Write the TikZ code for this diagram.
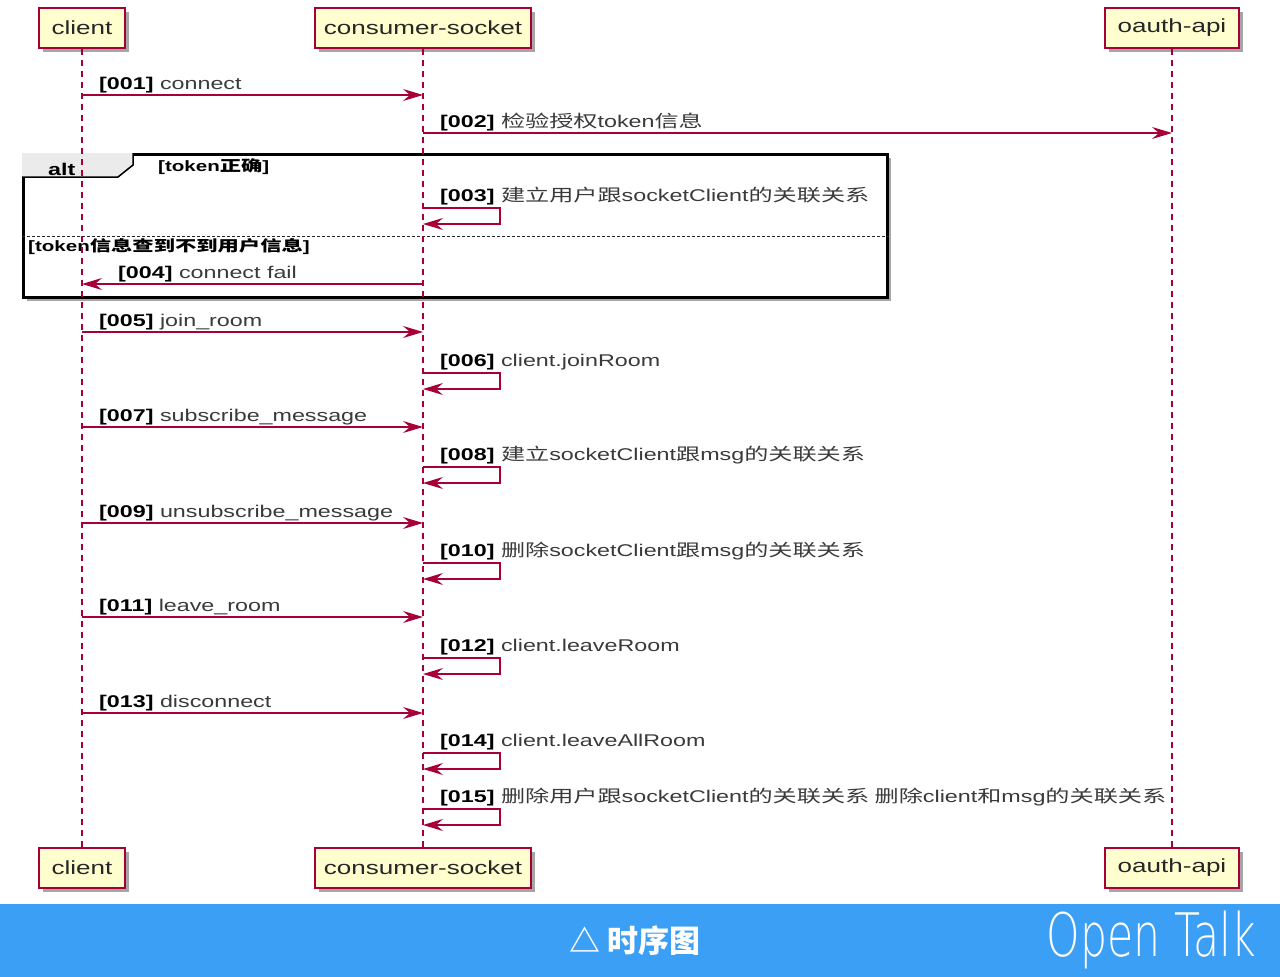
\documentclass[tikz,border=0pt]{standalone}
\usepackage{fontspec}
\setmainfont{Liberation Sans}[FakeStretch=1.37]
\newfontfamily\cjk{Noto Sans CJK SC}[FakeStretch=1.42]
\newfontfamily\cjkban{Noto Sans CJK SC}
\newfontfamily\thinfont{DejaVu Sans ExtraLight}[FakeStretch=0.71]
\usetikzlibrary{arrows.meta,shadows}
\definecolor{puml}{HTML}{A80036}
\definecolor{pfill}{HTML}{FEFECE}
\definecolor{bannerblue}{HTML}{3A9FF5}
\definecolor{lbl}{HTML}{3A3A3A}
\newcommand{\mnum}[1]{\textbf{\color{black}[#1]}}
\tikzset{
  x=1pt, y=-1pt,
  part/.style={draw=puml, fill=pfill, line width=1.5pt, minimum height=40pt, inner sep=0pt,
    font=\fontsize{19}{19}\selectfont, text=black!85,
    drop shadow={shadow xshift=4pt, shadow yshift=-4pt, opacity=0.35, fill=black}},
  lifeline/.style={draw=puml, line width=1.3pt, dash pattern=on 6pt off 5pt},
  msg/.style={draw=puml, line width=1.2pt, -{Stealth[length=20pt,width=12pt,inset=7pt]}},
  lab/.style={anchor=base west, inner sep=0pt, font=\fontsize{17}{17}\selectfont, text=lbl},
  grouplab/.style={anchor=base west, inner sep=0pt, font=\bfseries\fontsize{15}{15}\selectfont, text=black},
  altbox/.style={draw=black, line width=2.5pt, fill=white, inner sep=0pt,
    drop shadow={shadow xshift=4pt, shadow yshift=-4pt, opacity=0.35, fill=black}},
}
\begin{document}
\begin{tikzpicture}
\useasboundingbox (0,0) rectangle (1280,977);
\fill[white] (0,0) rectangle (1280,977);

% alt group box
\node[altbox, minimum width=864pt, minimum height=143pt, anchor=north west] (alt) at (22,153) {};
\fill[black!8] (alt.north west) -- ++(111,0) -- ++(0,12) -- ++(-15,12) -- ++(-96,0) -- cycle;
\draw[black, line width=1.5pt] ([xshift=111pt]alt.north west) -- ++(0,12) -- ++(-15,12) -- ([yshift=-24pt]alt.north west);
\node[grouplab, font=\bfseries\fontsize{17}{17}\selectfont] (altlab) at (48,175) {alt};
\node[grouplab] (g1) at (158,171) {[token{\cjk 正确}]};
\coordinate (sep) at (0,236);
\draw[black!85, line width=1pt, dash pattern=on 3pt off 2pt] (alt.west |- sep) -- (alt.east |- sep);
\node[grouplab] (g2) at (28,251) {[token{\cjk 信息查到不到用户信息}]};

% participants
\node[part, minimum width=86pt] (ct) at (82,28) {client};
\node[part, minimum width=216pt] (cs) at (423,28) {consumer-socket};
\node[part, minimum width=134pt] (ot) at (1172,28) {oauth-api};
\node[part, minimum width=86pt] (cb) at (82,868) {client};
\node[part, minimum width=216pt] (sb) at (423,868) {consumer-socket};
\node[part, minimum width=134pt] (ob) at (1172,868) {oauth-api};

\draw[lifeline] (ct.south) -- (cb.north);
\draw[lifeline] (cs.south) -- (sb.north);
\draw[lifeline] (ot.south) -- (ob.north);

% message rows
\coordinate (r1) at (0,95);
\coordinate (r2) at (0,133);
\coordinate (r3) at (0,208);   \coordinate (r3b) at (0,224);
\coordinate (r4) at (0,284);
\coordinate (r5) at (0,332);
\coordinate (r6) at (0,373);   \coordinate (r6b) at (0,389);
\coordinate (r7) at (0,427);
\coordinate (r8) at (0,467);   \coordinate (r8b) at (0,483);
\coordinate (r9) at (0,523);
\coordinate (r10) at (0,563);  \coordinate (r10b) at (0,579);
\coordinate (r11) at (0,617);
\coordinate (r12) at (0,658);  \coordinate (r12b) at (0,674);
\coordinate (r13) at (0,713);
\coordinate (r14) at (0,753);  \coordinate (r14b) at (0,769);
\coordinate (r15) at (0,809);  \coordinate (r15b) at (0,825);

% 001
\draw[msg] (ct |- r1) -- (cs |- r1);
\node[lab] (l1) at ([xshift=17pt,yshift=6pt]ct |- r1) {\mnum{001} connect};
% 002
\draw[msg] (cs |- r2) -- (ot |- r2);
\node[lab] (l2) at ([xshift=17pt,yshift=6pt]cs |- r2) {\mnum{002} {\cjk 检验授权}token{\cjk 信息}};
% 003
\draw[msg] (cs |- r3) -| ([xshift=77pt]cs |- r3b) -- (cs |- r3b);
\node[lab] (l3) at ([xshift=17pt,yshift=7pt]cs |- r3) {\mnum{003} {\cjk 建立用户跟}socketClient{\cjk 的关联关系}};
% 004
\draw[msg] (cs |- r4) -- (ct |- r4);
\node[lab] (l4) at ([xshift=36pt,yshift=6pt]ct |- r4) {\mnum{004} connect fail};
% 005
\draw[msg] (ct |- r5) -- (cs |- r5);
\node[lab] (l5) at ([xshift=17pt,yshift=6pt]ct |- r5) {\mnum{005} join\_room};
% 006
\draw[msg] (cs |- r6) -| ([xshift=77pt]cs |- r6b) -- (cs |- r6b);
\node[lab] (l6) at ([xshift=17pt,yshift=7pt]cs |- r6) {\mnum{006} client.joinRoom};
% 007
\draw[msg] (ct |- r7) -- (cs |- r7);
\node[lab] (l7) at ([xshift=17pt,yshift=6pt]ct |- r7) {\mnum{007} subscribe\_message};
% 008
\draw[msg] (cs |- r8) -| ([xshift=77pt]cs |- r8b) -- (cs |- r8b);
\node[lab] (l8) at ([xshift=17pt,yshift=7pt]cs |- r8) {\mnum{008} {\cjk 建立}socketClient{\cjk 跟}msg{\cjk 的关联关系}};
% 009
\draw[msg] (ct |- r9) -- (cs |- r9);
\node[lab] (l9) at ([xshift=17pt,yshift=6pt]ct |- r9) {\mnum{009} unsubscribe\_message};
% 010
\draw[msg] (cs |- r10) -| ([xshift=77pt]cs |- r10b) -- (cs |- r10b);
\node[lab] (l10) at ([xshift=17pt,yshift=7pt]cs |- r10) {\mnum{010} {\cjk 删除}socketClient{\cjk 跟}msg{\cjk 的关联关系}};
% 011
\draw[msg] (ct |- r11) -- (cs |- r11);
\node[lab] (l11) at ([xshift=17pt,yshift=6pt]ct |- r11) {\mnum{011} leave\_room};
% 012
\draw[msg] (cs |- r12) -| ([xshift=77pt]cs |- r12b) -- (cs |- r12b);
\node[lab] (l12) at ([xshift=17pt,yshift=7pt]cs |- r12) {\mnum{012} client.leaveRoom};
% 013
\draw[msg] (ct |- r13) -- (cs |- r13);
\node[lab] (l13) at ([xshift=17pt,yshift=6pt]ct |- r13) {\mnum{013} disconnect};
% 014
\draw[msg] (cs |- r14) -| ([xshift=77pt]cs |- r14b) -- (cs |- r14b);
\node[lab] (l14) at ([xshift=17pt,yshift=7pt]cs |- r14) {\mnum{014} client.leaveAllRoom};
% 015
\draw[msg] (cs |- r15) -| ([xshift=77pt]cs |- r15b) -- (cs |- r15b);
\node[lab] (l15) at ([xshift=17pt,yshift=7pt]cs |- r15) {\mnum{015} {\cjk 删除用户跟}socketClient{\cjk 的关联关系 删除}client{\cjk 和}msg{\cjk 的关联关系}};

% banner
\fill[bannerblue] (0,904) rectangle (1280,977);
\node[text=white, inner sep=0pt, font=\cjkban\bfseries\fontsize{31}{31}\selectfont] (cap) at (635,941) {△ 时序图};
\node[text=white, inner sep=0pt, anchor=east, font=\thinfont\fontsize{60}{60}\selectfont] (brand) at (1256,940) {Open Talk};
\end{tikzpicture}
\end{document}
